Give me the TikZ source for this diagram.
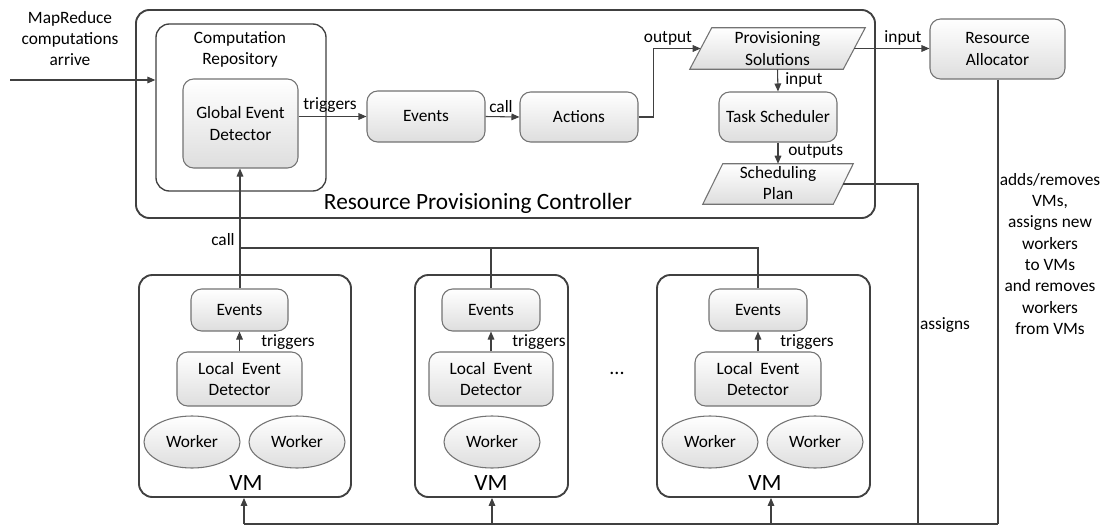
\documentclass[tikz,border=0pt]{standalone}
\usepackage{fontspec}
\setmainfont{Carlito}
\usetikzlibrary{shapes.geometric,arrows.meta}
\begin{document}
\begin{tikzpicture}[x=0.75pt,y=-0.75pt,
 font=\fontsize{13}{16}\selectfont,
 box/.style={draw=black!55, line width=0.8pt, rounded corners=8pt, top color=white, bottom color=black!13, inner sep=0pt, align=center},
 cont/.style={draw=black!75, line width=1.4pt, rounded corners=10pt, fill=white, inner sep=0pt},
 parabody/.style={inner sep=0pt},
 parashape/.style={draw=black!55, line width=0.8pt, top color=white, bottom color=black!13},
 worker/.style={ellipse, draw=black!55, line width=0.8pt, top color=white, bottom color=black!13, inner sep=0pt, minimum width=72pt, minimum height=39pt},
 conn/.style={draw=black!75, line width=0.8pt},
 arr/.style={conn, -{Triangle[length=6pt,width=5pt]}},
 lbl/.style={inner sep=0pt, align=center},
 big/.style={inner sep=0pt, font=\fontsize{17.5}{21}\selectfont},
]
\useasboundingbox (0,0) rectangle (1115,525);

% containers
\node[cont, minimum width=554.25pt, minimum height=156pt] (ctrl) at (505.5,114) {};
\node[big] (ctrltext) at (478,203) {Resource Provisioning Controller};
\node[cont, line width=1pt, minimum width=127.5pt, minimum height=125.25pt] (repo) at (241,107.5) {};
\node[lbl] (repotext) at (240,49.5) {Computation\\Repository};

% controller content
\node[box, minimum width=86.25pt, minimum height=66.75pt] (ged) at (240.5,123.5) {Global Event\\Detector};
\node[box, minimum width=88.5pt, minimum height=38.25pt] (ev) at (426,116.5) {Events};
\node[box, minimum width=88.5pt, minimum height=37.5pt] (act) at (579,117) {Actions};

\node[parabody, minimum width=114.75pt, minimum height=30.75pt] (ps) at (777.5,48.5) {};
\path[parashape] ([xshift=8.25pt]ps.north west) -- ([xshift=8.25pt]ps.north east)
  -- ([xshift=-8.25pt]ps.south east) -- ([xshift=-8.25pt]ps.south west) -- cycle;
\node[lbl] (pstext) at (ps) {Provisioning\\Solutions};

\node[box, minimum width=88.5pt, minimum height=37.5pt] (ts) at (778,117) {Task Scheduler};

\node[parabody, minimum width=97.5pt, minimum height=30pt] (sp) at (778,184) {};
\path[parashape] ([xshift=7.5pt]sp.north west) -- ([xshift=7.5pt]sp.north east)
  -- ([xshift=-7.5pt]sp.south east) -- ([xshift=-7.5pt]sp.south west) -- cycle;
\node[lbl] (sptext) at (778,183) {Scheduling\\Plan};

\node[box, minimum width=101.25pt, minimum height=45pt] (ra) at (997.5,49) {Resource\\Allocator};

% VMs
\node[cont, minimum width=159pt, minimum height=166.5pt] (vm1) at (245,386) {};
\node[cont, minimum width=114.75pt, minimum height=166.5pt] (vm2) at (491.5,386) {};
\node[cont, minimum width=159.75pt, minimum height=166.5pt] (vm3) at (763.5,386) {};
\node[big] (vm1t) at (246,483) {VM};
\node[big] (vm2t) at (491,483) {VM};
\node[big] (vm3t) at (765,483) {VM};

\node[box, minimum width=72.75pt, minimum height=31.5pt] (e1) at (239.5,310) {Events};
\node[box, minimum width=73.5pt, minimum height=31.5pt] (e2) at (491,310) {Events};
\node[box, minimum width=73.5pt, minimum height=31.5pt] (e3) at (758,310) {Events};
\node[box, minimum width=93.75pt, minimum height=40.5pt] (l1) at (239.5,379) {Local\ \ Event\\Detector};
\node[box, minimum width=93pt, minimum height=40.5pt] (l2) at (491,379) {Local\ \ Event\\Detector};
\node[box, minimum width=94.5pt, minimum height=40.5pt] (l3) at (758,379) {Local\ \ Event\\Detector};
\node[worker] (w11) at (192,442) {Worker};
\node[worker] (w12) at (297,442) {Worker};
\node[worker] (w21) at (492,442) {Worker};
\node[worker] (w31) at (710,442) {Worker};
\node[worker] (w32) at (815,442) {Worker};
\node[big, font=\fontsize{15}{18}\selectfont] (dots) at (617,373) {...};

% labels
\node[lbl] (mr) at (70,38.5) {MapReduce\\computations\\arrive};
\node[lbl] (ltrig) at (330,105) {triggers};
\node[lbl] (lcall) at (501,107) {call};
\node[lbl] (lout) at (668,38) {output};
\node[lbl] (lin1) at (903,38) {input};
\node[lbl, anchor=west] (lin2) at (785,80) {input};
\node[lbl, anchor=west] (louts) at (788,151) {outputs};
\node[lbl] (lassign) at (945,325) {assigns};
\node[lbl] (lra) at (1050,254) {adds/removes\\VMs,\\assigns new\\workers\\to VMs\\and removes\\workers\\from VMs};
\node[lbl] (lcall2) at (223,240) {call};
\node[lbl] (lt1) at (288,342) {triggers};
\node[lbl] (lt2) at (539,342) {triggers};
\node[lbl] (lt3) at (807,342) {triggers};

% connectors
\coordinate (in) at (10,80);
\draw[arr] (in) -- (in -| repo.west);
\draw[arr] (ev.west -| ged.east) -- (ev.west);
\draw[arr] (ev.east) -- (act.west);
\draw[arr] (act.east) -- ++(15,0) |- (ps.west);
\draw[arr] (ps.east) -- (ps.east -| ra.west);
\draw[arr] (ps.south) -- (ts.north);
\draw[arr] (ts.south) -- (sp.north);

\coordinate (b1) at (244,524);
\coordinate (b2) at (492,524);
\coordinate (b3) at (771,524);
\coordinate (b4) at (918,524);
\coordinate (b5) at (998,524);
\draw[conn] (b1) -- (b5);
\draw[conn] (sp.east) -| (b4);
\draw[conn] (ra.south -| b5) -- (b5);
\draw[arr] (b1) -- (b1 |- vm1.south);
\draw[arr] (b2) -- (b2 |- vm2.south);
\draw[arr] (b3) -- (b3 |- vm3.south);

\coordinate (cb) at (240,248);
\draw[arr] (cb |- e1.north) -- (cb |- ged.south);
\draw[conn] (cb) -| (e3.north);
\draw[conn] (e2.north) -- (e2.north |- cb);

\draw[arr] (l1.north) -- (e1.south);
\draw[arr] (l2.north) -- (e2.south);
\draw[arr] (l3.north) -- (e3.south);
\end{tikzpicture}
\end{document}
